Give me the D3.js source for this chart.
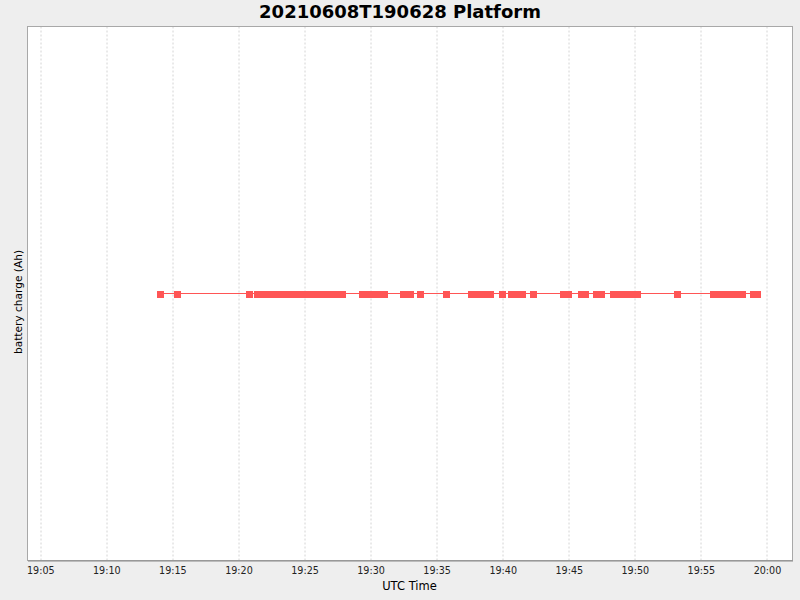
<!DOCTYPE html>
<html>
<head>
<meta charset="utf-8">
<script src="https://cdn.jsdelivr.net/npm/d3@7.9.0/dist/d3.min.js"></script>
<style>
  body { margin: 0; background: #eeeeee; }
  svg { display: block; font-family: "DejaVu Sans", sans-serif; }
</style>
</head>
<body>
<svg id="chart" width="800" height="600"></svg>
<script>
// sample times (UTC, 2021-06-08) and battery charge readings
const times = [
  "19:14:06", "19:15:23", "19:20:50",
  "19:21:27", "19:21:52", "19:22:17", "19:22:42", "19:23:07", "19:23:32",
  "19:23:57", "19:24:22", "19:24:47", "19:25:12", "19:25:37", "19:26:02",
  "19:26:27", "19:26:52", "19:27:17", "19:27:35", "19:27:53",
  "19:29:24", "19:29:50", "19:30:15", "19:30:40", "19:31:04",
  "19:32:30", "19:33:02", "19:33:47", "19:35:45",
  "19:37:39", "19:38:08", "19:38:37", "19:39:05",
  "19:40:00", "19:40:41", "19:41:06", "19:41:31", "19:42:21",
  "19:44:37", "19:45:00", "19:45:59", "19:46:17", "19:47:07", "19:47:29",
  "19:48:24", "19:48:51", "19:49:18", "19:49:46", "19:50:13",
  "19:53:15",
  "19:55:58", "19:56:24", "19:56:51", "19:57:17", "19:57:44", "19:58:10",
  "19:59:00", "19:59:18"
];
const charge = [
  0, 0, 0,
  0, 0, 0, 0, 0, 0,
  0, 0, 0, 0, 0, 0,
  0, 0, 0, 0, 0,
  0, 0, 0, 0, 0,
  0, 0, 0, 0,
  0, 0, 0, 0,
  0, 0, 0, 0, 0,
  0, 0, 0, 0, 0, 0,
  0, 0, 0, 0, 0,
  0,
  0, 0, 0, 0, 0, 0,
  0, 0
];
const timeRange = ["19:04:02", "20:01:56"];
const chargeRange = [-1, 1];

const title = "20210608T190628 Platform";
const xLabel = "UTC Time";
const yLabel = "battery charge (Ah)";

const parseTime = d3.utcParse("%Y-%m-%d %H:%M:%S");
const day = "2021-06-08 ";
const data = times.map((t, i) => ({ date: parseTime(day + t), value: charge[i] }));

const svg = d3.select("#chart"),
      margin = { top: 26.5, right: 7.5, bottom: 39.5, left: 27.5 },
      innerWidth = 800 - margin.left - margin.right,
      innerHeight = 600 - margin.top - margin.bottom;

const chart = svg.append("g")
    .attr("transform", `translate(${margin.left},${margin.top})`);

const xScale = d3.scaleUtc()
    .domain(timeRange.map(t => parseTime(day + t)))
    .range([0, innerWidth]);
const yScale = d3.scaleLinear().domain(chargeRange).range([innerHeight, 0]);

chart.append("rect")
    .attr("width", innerWidth)
    .attr("height", innerHeight)
    .attr("fill", "white");

const ticks = xScale.ticks(d3.utcMinute.every(5));

// dashed vertical gridlines
chart.append("g")
  .selectAll("line")
  .data(ticks)
  .join("line")
    .attr("x1", d => Math.round(xScale(d)) + 0.5)
    .attr("x2", d => Math.round(xScale(d)) + 0.5)
    .attr("y1", 0)
    .attr("y2", innerHeight)
    .attr("stroke", "#d4d4d4")
    .attr("stroke-dasharray", "2,2");

chart.append("rect")
    .attr("width", innerWidth)
    .attr("height", innerHeight)
    .attr("fill", "none")
    .attr("stroke", "#a8a8a8");

const xAxis = chart.append("g")
    .attr("transform", `translate(0,${innerHeight})`)
    .call(d3.axisBottom(xScale)
      .tickValues(ticks)
      .tickFormat(d3.utcFormat("%H:%M"))
      .tickSize(0)
      .tickPadding(7));
xAxis.select(".domain").attr("stroke", "#888888");
xAxis.selectAll("text")
    .attr("font-family", "DejaVu Sans")
    .attr("font-size", "9.6px")
    .attr("fill", "#222");

const line = d3.line()
    .x(d => xScale(d.date))
    .y(d => yScale(d.value));

chart.append("path")
    .datum(data)
    .attr("fill", "none")
    .attr("stroke", "#ff5555")
    .attr("stroke-width", 1)
    .attr("shape-rendering", "crispEdges")
    .attr("d", line);

chart.append("g")
  .selectAll("rect")
  .data(data)
  .join("rect")
    .attr("x", d => Math.round(xScale(d.date)) - 3.5)
    .attr("y", d => Math.round(yScale(d.value)) - 3)
    .attr("width", 7)
    .attr("height", 7)
    .attr("fill", "#ff5555")
    .attr("shape-rendering", "crispEdges");

svg.append("text")
    .attr("x", 400)
    .attr("y", 18)
    .attr("text-anchor", "middle")
    .attr("font-size", "18px")
    .attr("font-weight", "bold")
    .attr("fill", "#000")
    .text(title);

svg.append("text")
    .attr("x", 409.5)
    .attr("y", 590)
    .attr("text-anchor", "middle")
    .attr("font-size", "11.5px")
    .attr("fill", "#000")
    .text(xLabel);

svg.append("text")
    .attr("transform", "translate(21.5,302) rotate(-90)")
    .attr("text-anchor", "middle")
    .attr("font-size", "10.6px")
    .attr("fill", "#000")
    .text(yLabel);
</script>
</body>
</html>
